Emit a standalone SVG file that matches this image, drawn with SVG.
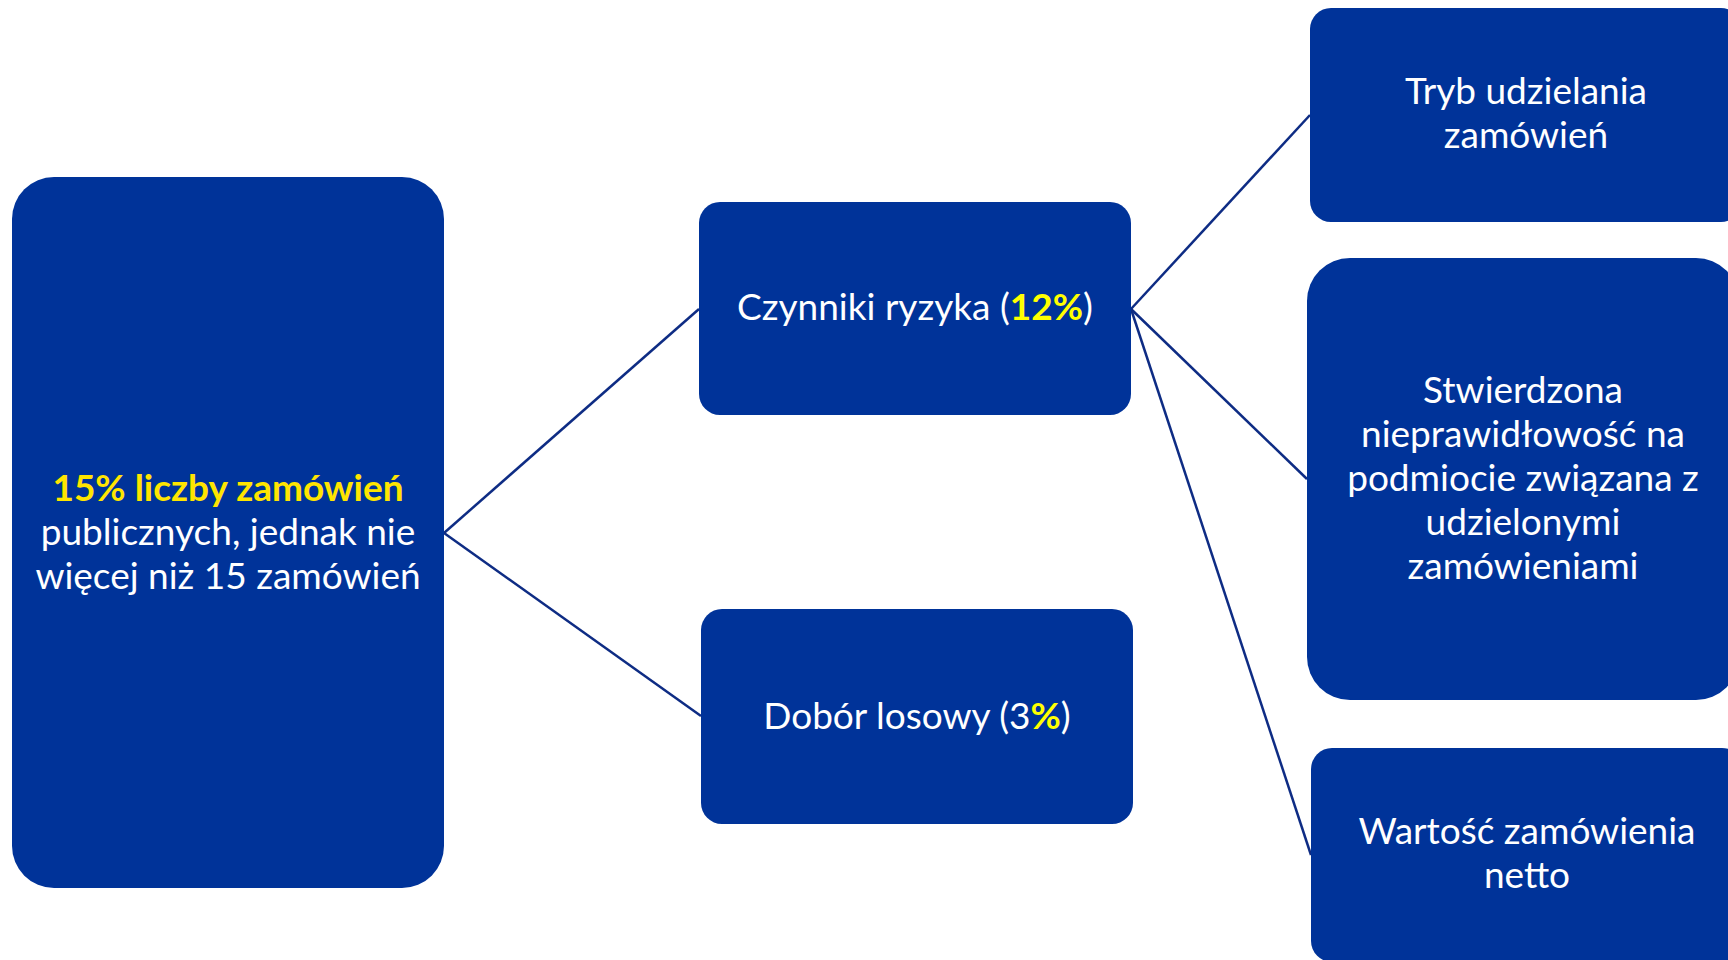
<svg xmlns="http://www.w3.org/2000/svg" width="1728" height="960" viewBox="0 0 1728 960">
<style>
.box{fill:#003399;}
.t{font-family:Lato,"Open Sans","Liberation Sans",sans-serif;font-size:37px;fill:#ffffff;text-anchor:middle;}
.y{fill:#FFFF00;font-weight:bold;}
.y2{fill:#FFE500;font-weight:bold;}
.c{stroke:#0E2C84;stroke-width:2.5;fill:none;}
</style>
<rect width="1728" height="960" fill="#ffffff"/>
<g id="connectors">
<line class="c" x1="444" y1="533" x2="699" y2="309"/>
<line class="c" x1="444" y1="533" x2="701" y2="716"/>
<line class="c" x1="1131" y1="309" x2="1310" y2="115"/>
<line class="c" x1="1131" y1="309" x2="1307" y2="479"/>
<line class="c" x1="1131" y1="309" x2="1311" y2="855"/>
</g>
<g id="node-root">
<rect class="box" x="12" y="177" width="432" height="711" rx="42" ry="42"/>
<text class="t" x="228" y="501"><tspan class="y2">15% liczby zamówień</tspan></text>
<text class="t" x="228" y="545">publicznych, jednak nie</text>
<text class="t" x="228" y="589">więcej niż 15 zamówień</text>
</g>
<g id="node-risk">
<rect class="box" x="699" y="202" width="432" height="213" rx="21" ry="21"/>
<text class="t" x="915" y="320">Czynniki ryzyka (<tspan class="y">12%</tspan>)</text>
</g>
<g id="node-random">
<rect class="box" x="701" y="609" width="432" height="215" rx="21" ry="21"/>
<text class="t" x="917" y="729">Dobór losowy (3<tspan class="y">%</tspan>)</text>
</g>
<g id="node-mode">
<rect class="box" x="1310" y="8" width="432" height="214" rx="21" ry="21"/>
<text class="t" x="1526" y="104">Tryb udzielania</text>
<text class="t" x="1526" y="148">zamówień</text>
</g>
<g id="node-irregularity">
<rect class="box" x="1307" y="258" width="432" height="442" rx="43" ry="43"/>
<text class="t" x="1523" y="403">Stwierdzona</text>
<text class="t" x="1523" y="447">nieprawidłowość na</text>
<text class="t" x="1523" y="491">podmiocie związana z</text>
<text class="t" x="1523" y="535">udzielonymi</text>
<text class="t" x="1523" y="579">zamówieniami</text>
</g>
<g id="node-value">
<rect class="box" x="1311" y="748" width="432" height="214" rx="21" ry="21"/>
<text class="t" x="1527" y="844">Wartość zamówienia</text>
<text class="t" x="1527" y="888">netto</text>
</g>
</svg>
